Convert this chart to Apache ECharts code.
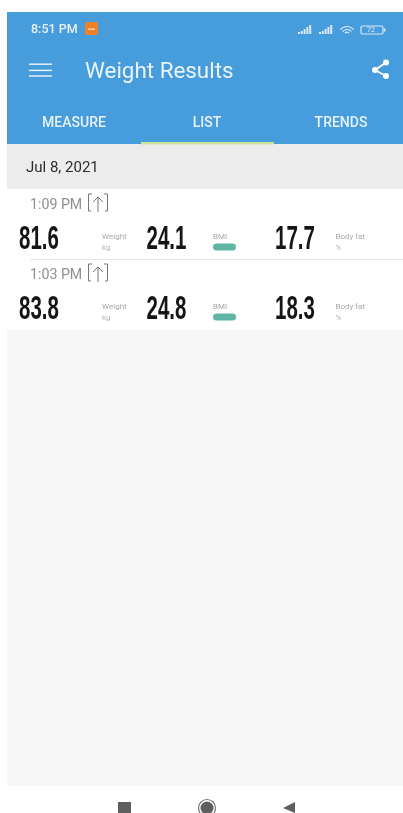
<!DOCTYPE html>
<html>
<head>
<meta charset="utf-8">
<title>Weight Results</title>
<script src="https://cdn.jsdelivr.net/npm/echarts@6/dist/echarts.min.js"></script>
<style>
  html, body { margin: 0; padding: 0; background: #fff; }
  #main { width: 403px; height: 813px; }
</style>
</head>
<body>
<div id="main"></div>
<script>
// data
const statusTime = '8:51 PM';
const batteryLevel = '72';
const pageTitle = 'Weight Results';
const tabs = ['MEASURE', 'LIST', 'TRENDS'];
const dateLabel = 'Jul 8, 2021';
const times = ['1:09 PM', '1:03 PM'];
const weights = ['81.6', '83.8'];
const bmis = ['24.1', '24.8'];
const bodyFats = ['17.7', '18.3'];
const metricNames = ['Weight', 'BMI', 'Body fat'];
const metricUnits = ['kg', '', '%'];

const FONT = 'Roboto, "Noto Sans", sans-serif';
const BLUE = '#479cdc';
const elements = [];

function rect(x, y, width, height, fill, r) {
  elements.push({ type: 'rect', shape: { x, y, width, height, r: r || 0 }, style: { fill } });
}
function text(x, y, str, size, fill, extra) {
  elements.push({
    type: 'text', x, y,
    style: Object.assign({
      text: str, fontSize: size, fill, fontFamily: FONT,
      textVerticalAlign: 'middle', textBaseline: 'middle'
    }, extra || {})
  });
}
function line(x1, y1, x2, y2, stroke, lineWidth) {
  elements.push({ type: 'line', shape: { x1, y1, x2, y2 }, style: { stroke, lineWidth } });
}
function poly(points, stroke, lineWidth) {
  elements.push({ type: 'polyline', shape: { points }, style: { stroke, lineWidth, fill: null } });
}
function bigNumber(x, y, str) {
  // condensed look of the app's digits
  elements.push({
    type: 'text', x, y, scaleX: 0.62,
    style: {
      text: str, fontSize: 33, fontWeight: 'bold', fill: '#151515',
      fontFamily: '"Liberation Sans Narrow", "Liberation Sans", sans-serif',
      textBaseline: 'middle', textVerticalAlign: 'middle'
    }
  });
}

// backgrounds
rect(7, 12, 396, 132, BLUE);
rect(7, 144, 396, 45, '#ececec');
rect(7, 189, 396, 141, '#ffffff');
rect(7, 330, 396, 456, '#f6f6f6');

// status bar
text(31, 30, statusTime, 12.5, '#e6f1fa', { fontWeight: 500 });
rect(85, 22, 13, 13, '#ee8127', 2);
rect(88, 28.5, 7, 1.5, '#fbd3a8');
[298, 319].forEach(function (x0) {
  [2, 3, 5, 7, 9].forEach(function (h, i) {
    rect(x0 + i * 2.8, 34 - h, 2, h, '#d8e9f7');
  });
});
// wifi
[8.5, 5.5, 2.8].forEach(function (r) {
  elements.push({
    type: 'arc',
    shape: { cx: 347, cy: 35, r: r, startAngle: -Math.PI * 0.78, endAngle: -Math.PI * 0.22 },
    style: { stroke: '#d8e9f7', lineWidth: 1.2, fill: null }
  });
});
// battery
elements.push({
  type: 'rect', shape: { x: 361, y: 26, width: 22, height: 8, r: 1.5 },
  style: { stroke: '#d8e9f7', fill: null, lineWidth: 1.2 }
});
rect(384, 28.5, 1.5, 3, '#d8e9f7');
text(367, 30.5, batteryLevel, 7, '#d8e9f7');

// toolbar
[63.5, 69.7, 75.3].forEach(function (y) {
  rect(29, y, 23, 1.4, '#f0f7fc');
});
text(85, 72, pageTitle, 22.4, '#eaf4fb');
// share icon
line(375, 70, 386, 62.5, '#ffffff', 1.8);
line(375, 70, 386, 76, '#ffffff', 1.8);
[[375, 70], [386, 62.5], [386, 76]].forEach(function (c) {
  elements.push({ type: 'circle', shape: { cx: c[0], cy: c[1], r: 3 }, style: { fill: '#ffffff' } });
});

// tabs
[74, 207, 341].forEach(function (cx, i) {
  text(cx, 123.5, tabs[i], 14, '#e6f2fb', { fontWeight: 500, textAlign: 'center' });
});
rect(141, 142, 133, 2.5, '#c9e49a');

// date header
text(26, 168, dateLabel, 15, '#2c2c2c');

// rows
const rowTop = [204, 274];
const numberX = [19, 146.5, 275];
const labelX = [102, 213, 335.5];
const rows = [weights, bmis, bodyFats];

times.forEach(function (t, i) {
  const ty = rowTop[i];
  text(30, ty + 1, t, 14.2, '#8f8f8f');
  // upload mark
  poly([[92, ty - 10], [88.5, ty - 10], [88.5, ty + 7], [91, ty + 7]], '#777', 1);
  poly([[104, ty - 10], [107.5, ty - 10], [107.5, ty + 7], [105, ty + 7]], '#777', 1);
  line(98, ty - 7, 98, ty + 8, '#777', 1);
  poly([[93, ty - 2], [98, ty - 7], [103, ty - 2]], '#777', 1);

  const ny = ty + 35;
  rows.forEach(function (vals, k) {
    bigNumber(numberX[k], ny + 0.5, vals[i]);
    text(labelX[k], ny - 2.5, metricNames[k], 8, '#a8a8a8');
    if (metricUnits[k]) {
      text(labelX[k], ny + 8.5, metricUnits[k], 8, '#b4b4b4');
    }
  });
  rect(213, ny + 4.5, 23, 7, '#5fb5a4', 3.5);
});
line(30, 259.5, 403, 259.5, '#e6e6e6', 1);

// nav bar
rect(118, 802, 13, 11, '#5e5e5e');
elements.push({ type: 'circle', shape: { cx: 207, cy: 808, r: 6.5 }, style: { fill: '#5e5e5e' } });
elements.push({
  type: 'circle', shape: { cx: 207, cy: 808, r: 8.5 },
  style: { fill: null, stroke: '#777', lineWidth: 1.2 }
});
elements.push({
  type: 'polygon', shape: { points: [[283, 808], [295, 802], [295, 813]] },
  style: { fill: '#5e5e5e' }
});

const chart = echarts.init(document.getElementById('main'));
chart.setOption({
  backgroundColor: '#ffffff',
  animation: false,
  graphic: { elements: elements }
});
</script>
</body>
</html>
